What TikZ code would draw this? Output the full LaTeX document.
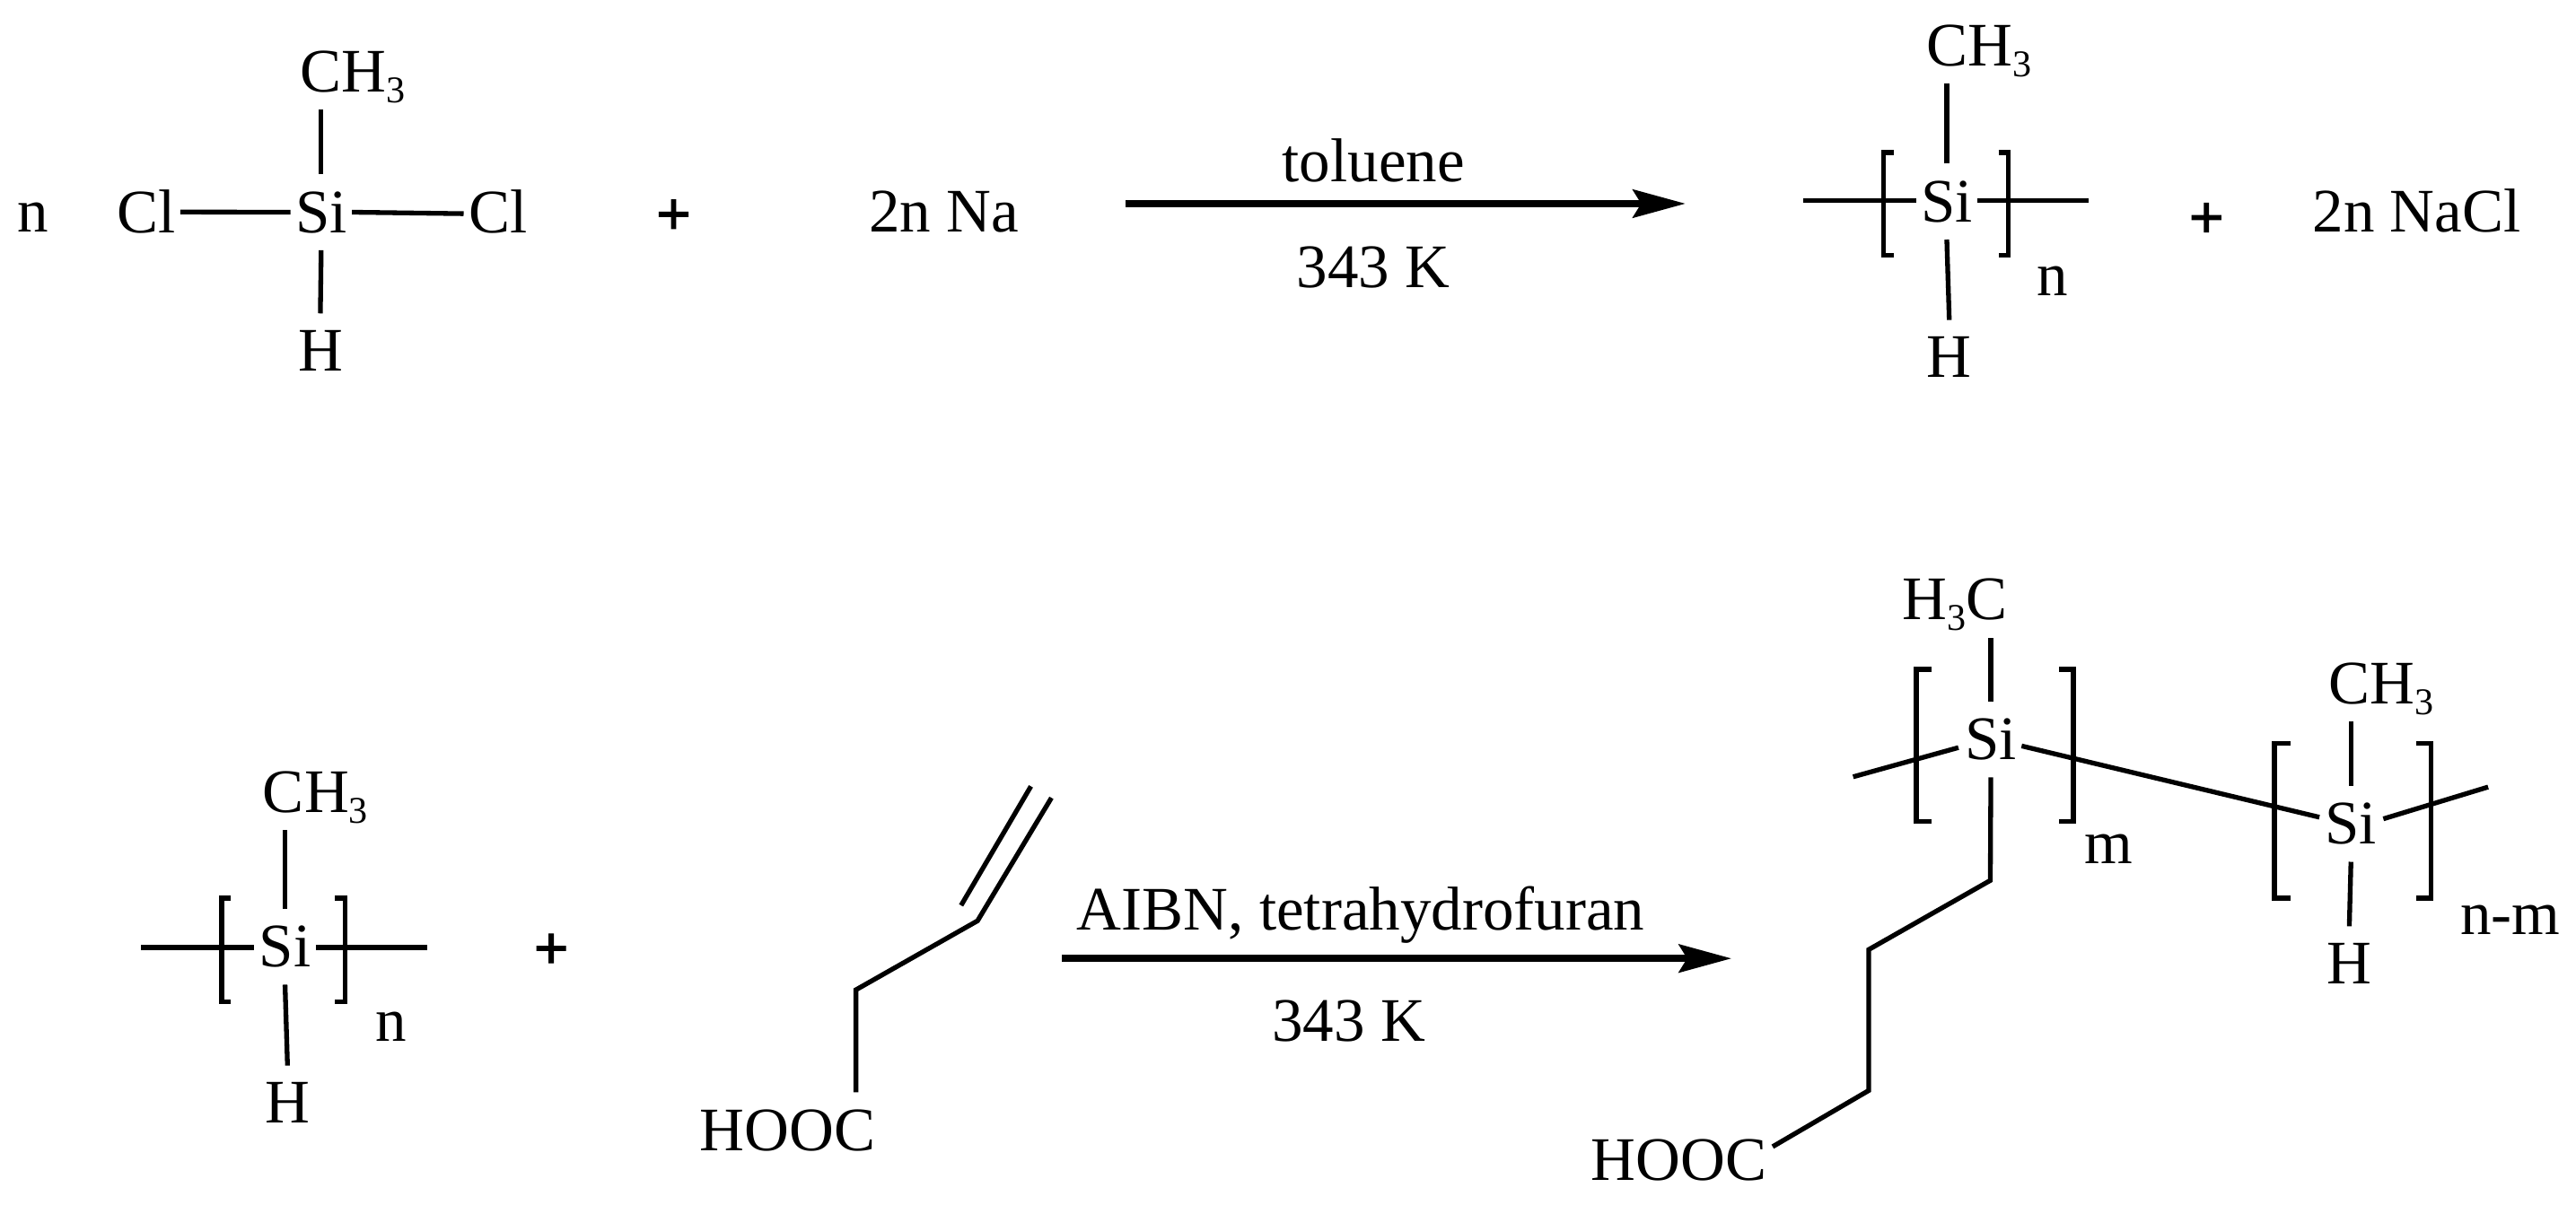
\documentclass[tikz,border=0pt]{standalone}
\usepackage{fontspec}
\setmainfont{Liberation Serif}
\newfontfamily\plusfont[FakeBold=1.5]{Liberation Serif Bold}
\usetikzlibrary{arrows.meta,calc}
\newcommand{\subthree}{\smash{\raisebox{-3.25pt}{\fontsize{11.5}{12}\selectfont 3}}}
\tikzset{
  x=0.5pt,y=-0.5pt,
  lbl/.style={inner sep=0pt,anchor=base,font=\fontsize{18.85}{22}\selectfont},
  atom/.style={lbl,outer xsep=1.5pt,outer ysep=5.25pt},
  plussign/.style={lbl,font=\fontsize{18.85}{22}\selectfont\plusfont},
  bond/.style={draw=black,line width=1.45pt},
  bracket/.style={draw=black,line width=1.5pt,miter limit=10},
  reaction/.style={draw=black,line width=2.2pt,-{Stealth[length=16pt,width=8.5pt,inset=2.5pt]}},
}
\begin{document}
\begin{tikzpicture}
\path[fill=white,use as bounding box] (0,0) rectangle (1568,733.2);
% ---------- top row reactants
\node[lbl] (n1) at (20,141) {n};
\node[atom] (cl1) at (89,142) {Cl};
\node[atom] (si1) at (195.5,141.5) {Si};
\node[atom] (cl2) at (303,142) {Cl};
\node[atom] (ch1) at (214.5,56) {CH\subthree};
\node[atom] (h1) at (195,226) {H};
\draw[bond] (cl1.east) -- (si1.west);
\draw[bond] (si1.east) -- ($(cl2.west)+(0,1)$);
\draw[bond] (si1.north) -- (si1.north |- ch1.south);
\draw[bond] (si1.south) -- (h1.north);
\node[plussign] (p1) at (410,143) {+};
\node[lbl] (na) at (574.5,141) {2n Na};
% ---------- top arrow
\coordinate (a1s) at (685,124);
\coordinate (a1e) at (1026,124);
\draw[reaction] (a1s) -- (a1e);
\node[lbl] (tol) at (836,110.6) {toluene};
\node[lbl] (t1) at (836,175) {343 K};
% ---------- top product
\node[atom] (si2) at (1185,135) {Si};
\node[atom] (ch2) at (1204.5,40) {CH\subthree};
\node[atom] (h2) at (1186.5,230) {H};
\coordinate (l2) at (1097.5,122);
\coordinate (r2) at (1271.5,122);
\draw[bond] (si2.north) -- (si2.north |- ch2.south);
\draw[bond] (si2.south) -- (h2.north);
\draw[bond] (l2) -- (l2 -| si2.west);
\draw[bond] (r2 -| si2.east) -- (r2);
\draw[bracket] (1152.5,93) -- (1146.5,93) -- (1146.5,155.5) -- (1152.5,155.5);
\draw[bracket] (1216.5,93) -- (1222.5,93) -- (1222.5,155.5) -- (1216.5,155.5);
\node[lbl] (n2) at (1249.5,180) {n};
\node[plussign] (p2) at (1343,145) {+};
\node[lbl] (nacl) at (1471,141) {2n NaCl};
% ---------- bottom reactants
\node[atom] (si3) at (173.5,588.7) {Si};
\node[atom] (ch3) at (192,494.7) {CH\subthree};
\node[atom] (h3) at (175,684) {H};
\coordinate (l3) at (86,577);
\coordinate (r3) at (260,577);
\draw[bond] (si3.north) -- (si3.north |- ch3.south);
\draw[bond] (si3.south) -- (h3.north);
\draw[bond] (l3) -- (l3 -| si3.west);
\draw[bond] (r3 -| si3.east) -- (r3);
\draw[bracket] (140.5,547) -- (135,547) -- (135,610) -- (140.5,610);
\draw[bracket] (204,547) -- (210,547) -- (210,610) -- (204,610);
\node[lbl] (n3) at (238,633.8) {n};
\node[plussign] (p3) at (335.5,590) {+};
\node[atom] (hooc1) at (479.5,700.5) {HOOC};
\coordinate (b1) at (521,602.7);
\coordinate (b2) at (595,560.7);
\coordinate (b3) at (640,485.8);
\coordinate (b4) at (585,551.3);
\coordinate (b5) at (627.5,478.8);
\draw[bond,line join=miter] (b1 |- hooc1.north) -- (b1) -- (b2) -- (b3);
\draw[bond] (b4) -- (b5);
% ---------- bottom arrow
\coordinate (a2s) at (646.5,583.6);
\coordinate (a2e) at (1054,583.6);
\draw[reaction] (a2s) -- (a2e);
\node[lbl] (aibn) at (828.3,566.5) {AIBN, tetrahydrofuran};
\node[lbl] (t2) at (821,633.8) {343 K};
% ---------- bottom product
\node[atom] (si4) at (1211.8,462.5) {Si};
\node[atom] (hc) at (1190,377.5) {H\subthree C};
\node[atom] (si5) at (1431,513.9) {Si};
\node[atom] (ch5) at (1449.5,428.6) {CH\subthree};
\node[atom] (h5) at (1430,599.2) {H};
\node[atom] (hooc2) at (1022,718.5) {HOOC};
\coordinate (l4) at (1128,473);
\coordinate (r5) at (1514.5,479.2);
\coordinate (c1) at (1211.5,536.1);
\coordinate (c2) at (1137.5,578.2);
\coordinate (c3) at (1137.5,664);
\coordinate (c4) at (1079,698.2);
\draw[bond] (si4.north) -- (si4.north |- hc.south);
\draw[bond] (l4) -- ($(si4.west)+(-1,5)$);
\draw[bond] ($(si4.east)+(0,4)$) -- ($(si5.west)+(-0.5,-4)$);
\draw[bond] ($(si5.east)+(1,-3)$) -- (r5);
\draw[bond] (si5.north) -- (si5.north |- ch5.south);
\draw[bond] (si5.south) -- (h5.north);
\draw[bond,line join=miter] (si4.south) -- (c1) -- (c2) -- (c3) -- (c4);
\draw[bracket] (1175.5,407.5) -- (1166.5,407.5) -- (1166.5,500.3) -- (1175.5,500.3);
\draw[bracket] (1253.5,407.5) -- (1262,407.5) -- (1262,500.3) -- (1253.5,500.3);
\draw[bracket] (1394,452.6) -- (1384.5,452.6) -- (1384.5,547) -- (1394,547);
\draw[bracket] (1470.5,452.6) -- (1479.7,452.6) -- (1479.7,547) -- (1470.5,547);
\node[lbl] (m1) at (1283.5,525.6) {m};
\node[lbl] (nm) at (1528,568.9) {n-m};
\end{tikzpicture}
\end{document}
